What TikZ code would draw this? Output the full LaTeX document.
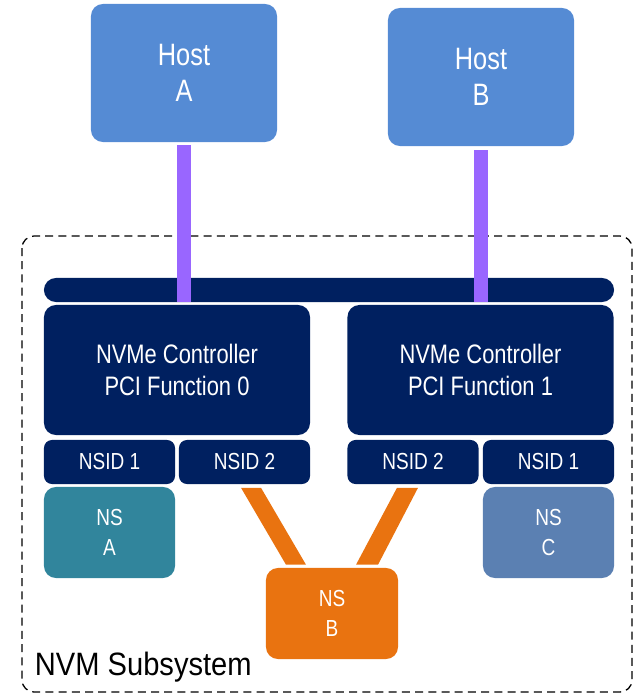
\documentclass[tikz,border=0pt]{standalone}
\usepackage{fontspec}
\setmainfont{Liberation Sans}[FakeStretch=0.82]
\newfontfamily\subsysfont{Liberation Sans}[FakeStretch=0.9]
\usetikzlibrary{calc}

\definecolor{hostblue}{RGB}{85,139,212}
\definecolor{linkpurple}{RGB}{153,102,255}
\definecolor{ctrlnavy}{RGB}{0,32,96}
\definecolor{nsteal}{RGB}{49,133,156}
\definecolor{nsorange}{RGB}{233,115,16}
\definecolor{nsslate}{RGB}{91,128,178}

\tikzset{
	host/.style={fill=hostblue, text=white, rounded corners=0.3cm, minimum width=4.65cm, minimum height=3.45cm, align=center, font=\fontsize{22}{26}\selectfont},
	ctrl/.style={fill=ctrlnavy, text=white, rounded corners=0.3cm, minimum width=6.65cm, minimum height=3.25cm, align=center, font=\fontsize{19}{22.5}\selectfont},
	nsid/.style={fill=ctrlnavy, text=white, rounded corners=0.2cm, minimum width=3.275cm, minimum height=1.1cm, font=\fontsize{16.5}{20}\selectfont},
	nsbox/.style={text=white, rounded corners=0.3cm, minimum width=3.275cm, minimum height=2.275cm, align=center, font=\fontsize{16.5}{21}\selectfont},
	purplelink/.style={draw=linkpurple, line width=0.35cm},
}

\begin{document}
\begin{tikzpicture}[x=0.025cm, y=-0.025cm]
		\useasboundingbox (0,0) rectangle (635,694);
		% subsystem frame
		\draw[black, dash pattern=on 0.2cm off 0.13cm, line width=0.9pt, rounded corners=0.3cm] (22,236) rectangle (632,692);
		\node[anchor=west, font=\subsysfont\fontsize{23}{26}\selectfont] (subsys) at (30,667){NVM Subsystem};
		% hosts
		\node[host] (hostA) at (184,73){Host\\A};
		\node[host] (hostB) at (481,77){Host\\B};
		% bus and controllers
		\node[fill=ctrlnavy, rounded corners=0.3cm, minimum width=14.25cm, minimum height=0.6cm] (bus) at (329,290){};
		\node[ctrl] (ctrlA) at (177,370){NVMe Controller\\PCI Function 0};
		\node[ctrl] (ctrlB) at (480.5,370){NVMe Controller\\PCI Function 1};
		\node[nsid] (nsidAone) at (109.5,462){NSID 1};
		\node[nsid] (nsidAtwo) at (244.5,462){NSID 2};
		\node[nsid] (nsidBtwo) at (413,462){NSID 2};
		\node[nsid] (nsidBone) at (548.5,462){NSID 1};
		% namespaces
		\node[nsbox, fill=nsteal] (nsA) at (109.5,532.5){NS\\A};
		\node[nsbox, fill=nsorange, minimum width=3.3cm] (nsB) at (332,613.5){NS\\B};
		\node[nsbox, fill=nsslate] (nsC) at (548.5,532.5){NS\\C};
		% links
		\draw[purplelink] ($(hostA.south)+(0,3)$) -- (hostA.south |- bus.south);
		\draw[purplelink] ($(hostB.south)+(0,4)$) -- (hostB.south |- bus.south);
		\fill[nsorange] ($(nsidAtwo.south)+(-3.5,3.5)$) -- ($(nsidAtwo.south)+(16.5,3.5)$) -- ($(nsB.north)+(-26,-3)$) -- ($(nsB.north)+(-46,-3)$) -- cycle;
		\fill[nsorange] ($(nsidBtwo.south)+(-16,3.5)$) -- ($(nsidBtwo.south)+(5,3.5)$) -- ($(nsB.north)+(46,-3)$) -- ($(nsB.north)+(24,-3)$) -- cycle;
	\end{tikzpicture}
\end{document}
